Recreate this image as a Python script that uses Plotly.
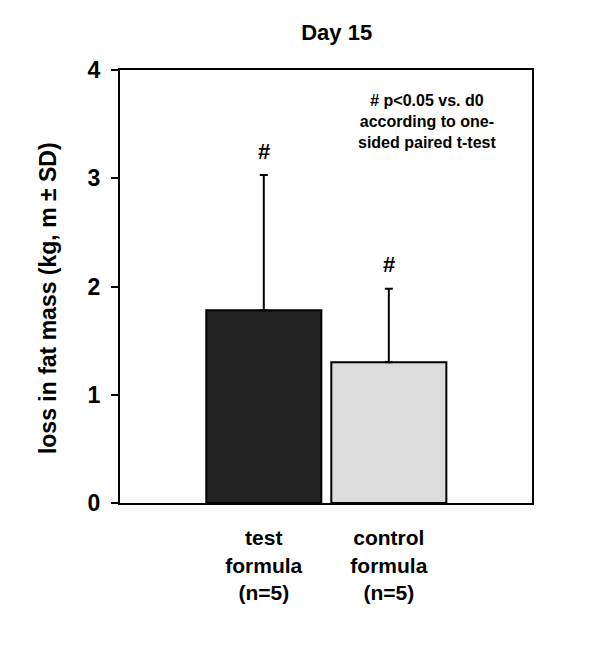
import plotly.graph_objects as go

categories = ["test<br>formula<br>(n=5)", "control<br>formula<br>(n=5)"]
means = [1.78, 1.30]
sds = [1.25, 0.68]
colors = ["#222222", "#dcdcdc"]
y_ticks = [0, 1, 2, 3, 4]

FONT = "Arial, Liberation Sans, sans-serif"
xpos = [0, 1]

fig = go.Figure()
fig.add_trace(go.Bar(
    x=xpos, y=means, width=0.92,
    marker=dict(color=colors, line=dict(color="black", width=2)),
    error_y=dict(type="data", array=sds, arrayminus=[0, 0], symmetric=False,
                 color="black", thickness=2, width=4),
    showlegend=False,
))

for xi, m, s in zip(xpos, means, sds):
    fig.add_annotation(x=xi, y=m + s, text="#", showarrow=False, yanchor="middle",
                       yshift=24, font=dict(family=FONT, size=22, color="black", weight="bold"))

fig.add_annotation(xref="paper", yref="paper", x=0.745, y=0.88, xanchor="center", yanchor="middle",
                   text="# p<0.05 vs. d0<br>according to one-<br>sided paired t-test",
                   showarrow=False, align="center",
                   font=dict(family=FONT, size=16, color="black", weight="bold"))

fig.add_annotation(xref="paper", yref="paper", x=-0.175, y=0.473, xanchor="center", yanchor="middle",
                   text="loss in fat mass (kg, m ± SD)", textangle=-90, showarrow=False,
                   font=dict(family=FONT, size=23, color="black", weight="bold"))

fig.update_layout(
    width=600, height=650,
    margin=dict(l=112, r=76, t=62, b=155),
    paper_bgcolor="white", plot_bgcolor="white",
    title=dict(text="Day 15", xref="paper", x=0.526, xanchor="center",
               yref="container", y=0.963, yanchor="middle",
               font=dict(family=FONT, size=22, color="black", weight="bold")),
    font=dict(family=FONT, color="black"),
)
fig.update_xaxes(
    range=[-1.15, 2.145], tickvals=xpos, ticktext=categories,
    showline=True, linecolor="black", linewidth=2, mirror=True,
    ticks="outside", ticklen=15, tickcolor="rgba(0,0,0,0)",
    showgrid=False, zeroline=False,
    tickfont=dict(family=FONT, size=21, color="black", weight="bold"),
)
fig.update_yaxes(
    range=[0, 4], tickvals=y_ticks,
    showline=True, linecolor="black", linewidth=2, mirror=True,
    ticks="outside", ticklen=7, tickwidth=2, tickcolor="black", ticklabelstandoff=6,
    showgrid=False, zeroline=False,
    tickfont=dict(family=FONT, size=23, color="black", weight="bold"),
)

fig.write_html("out.html")
